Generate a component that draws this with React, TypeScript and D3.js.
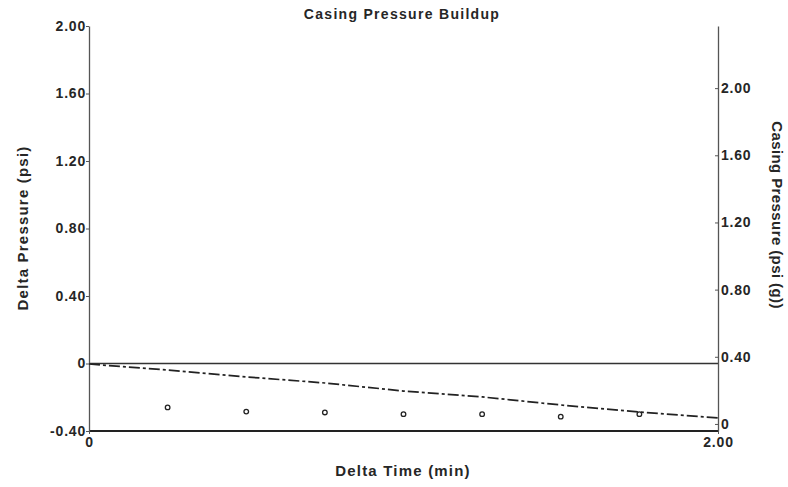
import { useEffect, useRef } from 'react';
import * as d3 from 'd3';

// Delta time (min) at which the delta pressure samples were taken
const sampleTimes = [0.25, 0.5, 0.75, 1.0, 1.25, 1.5, 1.75];
// Delta pressure (psi) samples
const deltaPressure = [-0.26, -0.285, -0.29, -0.3, -0.3, -0.315, -0.3];

// Casing pressure trend (psi (g)) – dash-dot line on right axis
const casingTimes = [0, 0.25, 0.5, 0.75, 1.0, 1.25, 1.5, 1.75, 2.0];
const casingPressure = [0.357, 0.321, 0.28, 0.244, 0.196, 0.161, 0.113, 0.071, 0.036];

// Reference line for delta pressure = 0
const zeroLine = [0, 2.0];

const leftTicks = [-0.4, 0, 0.4, 0.8, 1.2, 1.6, 2.0];
const rightTicks = [0, 0.4, 0.8, 1.2, 1.6, 2.0];
const xTicks = [0, 2.0];

const fmt = (d: number) => (d === 0 ? '0' : d.toFixed(2));

const App = () => {
  const ref = useRef<SVGSVGElement | null>(null);

  useEffect(() => {
    if (!ref.current) return;
    const svg = d3.select(ref.current);
    svg.selectAll('*').remove();

    const width = 788;
    const height = 487;
    const margin = { top: 26, right: 70, bottom: 56, left: 89 };
    const innerW = width - margin.left - margin.right;
    const innerH = height - margin.top - margin.bottom;
    const font = '"Liberation Sans", Arial, sans-serif';
    const ink = '#262626';

    const g = svg.append('g').attr('transform', `translate(${margin.left},${margin.top})`);

    const x = d3.scaleLinear().domain([0, 2.0]).range([0, innerW]);
    const yL = d3.scaleLinear().domain([-0.4, 2.0]).range([innerH, 0]);
    // right axis: 0 sits slightly above bottom, 0.40 per ~67px
    const yR = d3.scaleLinear().domain([-0.042, 2.37]).range([innerH, 0]);

    // x axis line
    g.append('line')
      .attr('x1', 0).attr('x2', innerW)
      .attr('y1', innerH).attr('y2', innerH)
      .attr('stroke', '#222').attr('stroke-width', 1.8);

    // zero line
    g.append('line')
      .attr('x1', x(zeroLine[0])).attr('x2', x(zeroLine[1]))
      .attr('y1', yL(0)).attr('y2', yL(0))
      .attr('stroke', '#333').attr('stroke-width', 1.3);

    const styleTicks = (sel: any) =>
      sel.attr('font-family', font).attr('font-weight', 'bold').attr('font-size', 14)
        .attr('letter-spacing', 0.8).attr('fill', ink);

    // left axis
    const la = g.append('g').call(d3.axisLeft(yL).tickValues(leftTicks).tickFormat(d => fmt(+d)).tickSize(3).tickSizeOuter(0));
    la.select('.domain').attr('stroke', '#555').attr('stroke-width', 1.3);
    la.selectAll('line').attr('stroke', '#555');
    styleTicks(la.selectAll('text').attr('x', -3));

    // right axis
    const ra = g.append('g').attr('transform', `translate(${innerW},0)`)
      .call(d3.axisRight(yR).tickValues(rightTicks).tickFormat(d => fmt(+d)).tickSize(-3).tickSizeOuter(0));
    ra.select('.domain').attr('stroke', '#555').attr('stroke-width', 1.3);
    ra.selectAll('line').attr('stroke', '#555');
    styleTicks(ra.selectAll('text').attr('x', 3));

    // x axis ticks
    const xa = g.append('g').attr('transform', `translate(0,${innerH})`)
      .call(d3.axisBottom(x).tickValues(xTicks).tickFormat(d => fmt(+d)).tickSize(3).tickSizeOuter(0));
    xa.select('.domain').remove();
    xa.selectAll('line').attr('stroke', '#555');
    styleTicks(xa.selectAll('text').attr('y', 6));

    // casing pressure dash-dot line
    const line = d3.line<number>().x((_, i) => x(casingTimes[i])).y(d => yR(d));
    g.append('path')
      .datum(casingPressure)
      .attr('d', line)
      .attr('fill', 'none')
      .attr('stroke', '#222')
      .attr('stroke-width', 1.7)
      .attr('stroke-dasharray', '11,3,3,3');

    // delta pressure points
    g.selectAll('circle.pt')
      .data(deltaPressure)
      .join('circle')
      .attr('class', 'pt')
      .attr('cx', (_, i) => x(sampleTimes[i]))
      .attr('cy', d => yL(d))
      .attr('r', 2.3)
      .attr('fill', 'none')
      .attr('stroke', '#222')
      .attr('stroke-width', 1.3);

    // title
    svg.append('text')
      .attr('x', 402).attr('y', 19)
      .attr('text-anchor', 'middle')
      .attr('font-family', font).attr('font-weight', 'bold').attr('font-size', 14)
      .attr('letter-spacing', 1.3)
      .attr('fill', ink)
      .text('Casing Pressure Buildup');

    // x label
    svg.append('text')
      .attr('x', 403).attr('y', 476)
      .attr('text-anchor', 'middle')
      .attr('font-family', font).attr('font-weight', 'bold').attr('font-size', 15)
      .attr('letter-spacing', 1.2)
      .attr('fill', ink)
      .text('Delta Time (min)');

    // left label
    svg.append('text')
      .attr('transform', 'translate(28,228) rotate(-90)')
      .attr('text-anchor', 'middle')
      .attr('font-family', font).attr('font-weight', 'bold').attr('font-size', 15)
      .attr('letter-spacing', 1.2)
      .attr('fill', ink)
      .text('Delta Pressure (psi)');

    // right label
    svg.append('text')
      .attr('transform', 'translate(772,215) rotate(90)')
      .attr('text-anchor', 'middle')
      .attr('font-family', font).attr('font-weight', 'bold').attr('font-size', 15)
      .attr('letter-spacing', 0.4)
      .attr('fill', ink)
      .text('Casing Pressure (psi (g))');
  }, []);

  return (
    <svg
      ref={ref}
      width={788}
      height={487}
      style={{ position: 'absolute', left: 0, top: 0, background: '#fff' }}
    />
  );
};

export default App;
